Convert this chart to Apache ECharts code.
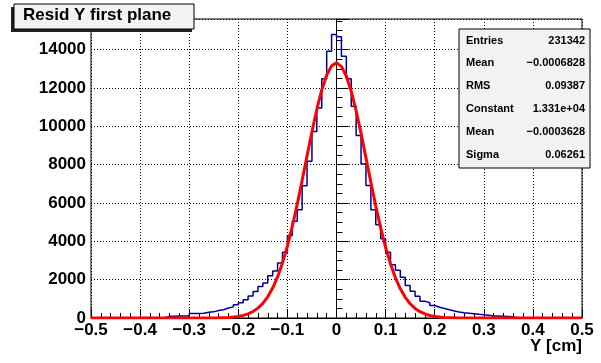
<!DOCTYPE html>
<html>
<head>
<meta charset="utf-8">
<script src="https://cdn.jsdelivr.net/npm/echarts@6/dist/echarts.min.js"></script>
<style>
  html, body { margin: 0; padding: 0; background: #fff; }
  #chart { width: 601px; height: 363px; }
</style>
</head>
<body>
<div id="chart"></div>
<script>
// histogram: 100 bins of 0.01 from -0.5 to 0.5
const xMin = -0.5;
const binWidth = 0.01;
const counts = [
  0, 0, 0, 0, 0, 0, 0, 0, 0, 0,
  0, 0, 0, 0, 0, 90, 95, 100, 105, 110,
  230, 240, 250, 300, 320, 390, 430, 520, 580, 690,
  800, 950, 1150, 1380, 1640, 1830, 2200, 2450, 2870, 3430,
  4300, 5050, 5650, 6900, 8180, 9730, 10960, 12480, 13920, 14790,
  14670, 13660, 12480, 11050, 9520, 8040, 6910, 5650, 4870, 4130,
  3430, 2780, 2490, 2120, 1690, 1390, 1130, 880, 800, 650,
  560, 500, 430, 370, 310, 270, 250, 220, 190, 170,
  140, 110, 100, 90, 80, 70, 0, 0, 0, 0,
  0, 0, 0, 0, 0, 0, 0, 0, 0, 0
];

// gaussian fit curve
const fitX = [-0.5, -0.26, -0.25, -0.24, -0.23, -0.22, -0.21, -0.2, -0.19, -0.18, -0.17, -0.16,
  -0.15, -0.14, -0.13, -0.12, -0.11, -0.1, -0.09, -0.08, -0.07, -0.06, -0.05, -0.04, -0.03,
  -0.02, -0.01, 0, 0.01, 0.02, 0.03, 0.04, 0.05, 0.06, 0.07, 0.08, 0.09, 0.1, 0.11, 0.12,
  0.13, 0.14, 0.15, 0.16, 0.17, 0.18, 0.19, 0.2, 0.21, 0.22, 0.23, 0.24, 0.25, 0.26, 0.5];
const fitY = [0, 2, 5, 9, 16, 28, 49, 82, 135, 217, 339, 516,
  765, 1107, 1560, 2144, 2872, 3752, 4776, 5927, 7170, 8456, 9720, 10893, 11899,
  12671, 13153, 13310, 13129, 12625, 11834, 10813, 9631, 8363, 7078, 5841, 4698, 3683, 2815, 2098,
  1523, 1079, 745, 501, 328, 210, 131, 80, 47, 27, 15, 8, 4, 2, 0];

const statNames = ['Entries', 'Mean', 'RMS', 'Constant', 'Mean', 'Sigma'];
const statValues = ['231342', '\u22120.0006828', '0.09387', '1.331e+04', '\u22120.0003628', '0.06261'];

const titleText = 'Resid Y first plane';
const xTitle = 'Y [cm]';

let histData = counts.map((c, i) => [xMin + i * binWidth, c]);
histData.push([xMin + counts.length * binWidth, counts[counts.length - 1]]);
let fitData = fitX.map((x, i) => [x, fitY[i]]);

const font = '"Liberation Sans", Arial, sans-serif';
const minus = v => String(v).replace('-', '\u2212');

let chart = echarts.init(document.getElementById('chart'));

let statGraphics = [];
statNames.forEach((n, i) => {
  statGraphics.push({
    type: 'text', left: 466, top: 35 + i * 22.9,
    style: { text: n, font: 'bold 11px ' + font, fill: '#000' }
  });
  statGraphics.push({
    type: 'text', right: 601 - 585, top: 35 + i * 22.9,
    style: { text: statValues[i], font: 'bold 11px ' + font, fill: '#000', textAlign: 'right' }
  });
});

let option = {
  animation: false,
  backgroundColor: '#fff',
  grid: {
    left: 91, right: 19, top: 19, bottom: 45,
    show: true, borderColor: '#000', borderWidth: 1, backgroundColor: 'transparent'
  },
  xAxis: {
    type: 'value', min: -0.5, max: 0.5, interval: 0.1,
    axisLine: { show: true, lineStyle: { color: '#000', width: 1 } },
    axisTick: { show: true, inside: true, length: 9, lineStyle: { color: '#000' } },
    minorTick: { show: true, splitNumber: 5, length: 5, lineStyle: { color: '#000' } },
    splitLine: { show: true, lineStyle: { color: '#000', type: [1, 2], width: 1 } },
    axisLabel: {
      color: '#000', fontSize: 17, fontWeight: 'bold', fontFamily: font, margin: 4,
      formatter: v => minus(Math.round(v * 10) / 10)
    }
  },
  yAxis: {
    type: 'value', min: 0, max: 15600, interval: 2000,
    axisLine: { show: true, lineStyle: { color: '#000', width: 1 } },
    axisTick: { show: true, inside: true, length: 12, lineStyle: { color: '#000' } },
    minorTick: { show: true, splitNumber: 4, length: 6, lineStyle: { color: '#000' } },
    splitLine: { show: true, lineStyle: { color: '#000', type: [1, 2], width: 1 } },
    axisLabel: {
      color: '#000', fontSize: 17, fontWeight: 'bold', fontFamily: font, margin: 5,
      showMaxLabel: false, formatter: v => String(v)
    }
  },
  series: [
    {
      type: 'line', data: histData, step: 'end', symbol: 'none',
      lineStyle: { color: '#000099', width: 1.5 }, z: 2
    },
    {
      type: 'line', data: fitData, symbol: 'none', smooth: false,
      lineStyle: { color: '#ff0000', width: 3 }, z: 3
    }
  ],
  graphic: [
    // title box with shadow
    { type: 'rect', shape: { x: 11, y: 7, width: 181, height: 25 }, style: { fill: '#222' }, z: 10 },
    { type: 'rect', shape: { x: 14, y: 4, width: 180, height: 25 },
      style: { fill: '#f2f2f2', stroke: '#000', lineWidth: 1 }, z: 11 },
    { type: 'text', left: 23, top: 7,
      style: { text: titleText, font: 'bold 17px ' + font, fill: '#000' }, z: 12 },
    // stats box
    { type: 'rect', shape: { x: 459, y: 29, width: 131, height: 139 },
      style: { fill: '#f2f2f2', stroke: '#000', lineWidth: 1 }, z: 10 },
    ...statGraphics.map(g => Object.assign(g, { z: 11 })),
    // x axis title
    { type: 'text', right: 601 - 582, top: 338,
      style: { text: xTitle, font: 'bold 17px ' + font, fill: '#000', textAlign: 'right' }, z: 12 }
  ]
};
chart.setOption(option);
</script>
</body>
</html>
